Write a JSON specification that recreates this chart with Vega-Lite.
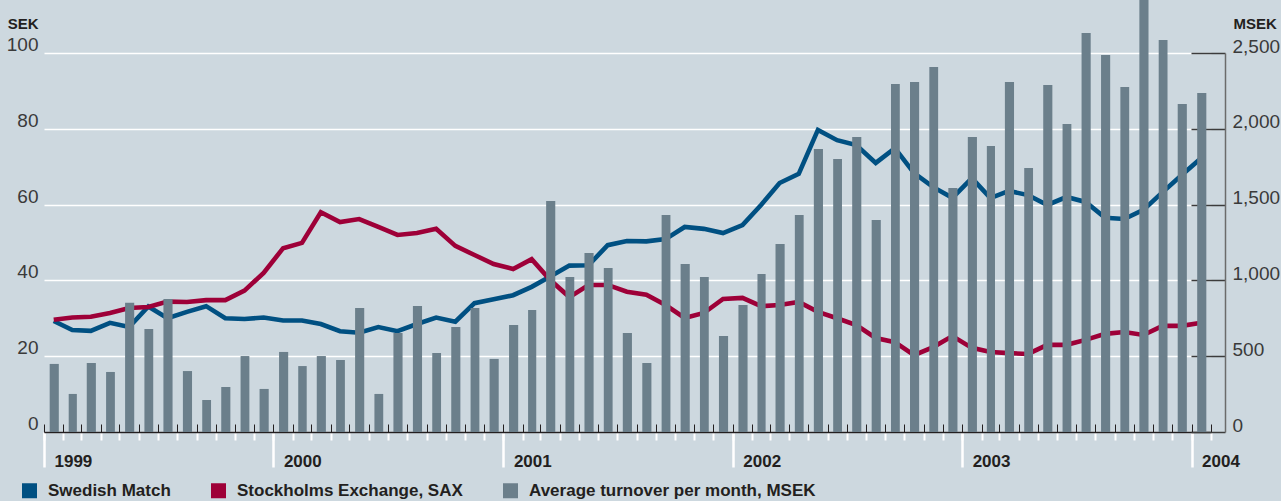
{
  "$schema": "https://vega.github.io/schema/vega-lite/v6.json",
  "width": 1167,
  "height": 379,
  "autosize": {"type": "none"},
  "padding": {"left": 44, "top": 53, "right": 70, "bottom": 69},
  "background": "#cdd8df",
  "config": {"view": {"stroke": null}},
  "data": {"values": [
    {"date": "1999-01-01", "sm": 29.3, "sax": 29.6, "turnover": 449},
    {"date": "1999-02-01", "sm": 26.9, "sax": 30.2, "turnover": 251},
    {"date": "1999-03-01", "sm": 26.7, "sax": 30.4, "turnover": 455},
    {"date": "1999-04-01", "sm": 28.8, "sax": 31.4, "turnover": 396},
    {"date": "1999-05-01", "sm": 27.7, "sax": 32.7, "turnover": 853},
    {"date": "1999-06-01", "sm": 33.1, "sax": 33.0, "turnover": 679},
    {"date": "1999-07-01", "sm": 30.0, "sax": 34.4, "turnover": 877},
    {"date": "1999-08-01", "sm": 31.7, "sax": 34.3, "turnover": 402},
    {"date": "1999-09-01", "sm": 33.2, "sax": 34.8, "turnover": 211},
    {"date": "1999-10-01", "sm": 30.0, "sax": 34.8, "turnover": 297},
    {"date": "1999-11-01", "sm": 29.8, "sax": 37.3, "turnover": 501},
    {"date": "1999-12-01", "sm": 30.2, "sax": 42.0, "turnover": 284},
    {"date": "2000-01-01", "sm": 29.4, "sax": 48.5, "turnover": 528},
    {"date": "2000-02-01", "sm": 29.4, "sax": 49.9, "turnover": 435},
    {"date": "2000-03-01", "sm": 28.5, "sax": 58.0, "turnover": 501},
    {"date": "2000-04-01", "sm": 26.6, "sax": 55.4, "turnover": 475},
    {"date": "2000-05-01", "sm": 26.2, "sax": 56.2, "turnover": 818},
    {"date": "2000-06-01", "sm": 27.7, "sax": 54.1, "turnover": 251},
    {"date": "2000-07-01", "sm": 26.6, "sax": 52.0, "turnover": 653},
    {"date": "2000-08-01", "sm": 28.5, "sax": 52.5, "turnover": 831},
    {"date": "2000-09-01", "sm": 30.2, "sax": 53.6, "turnover": 521},
    {"date": "2000-10-01", "sm": 29.1, "sax": 49.1, "turnover": 693},
    {"date": "2000-11-01", "sm": 34.0, "sax": 46.7, "turnover": 818},
    {"date": "2000-12-01", "sm": 35.0, "sax": 44.3, "turnover": 482},
    {"date": "2001-01-01", "sm": 36.1, "sax": 43.0, "turnover": 706},
    {"date": "2001-02-01", "sm": 38.3, "sax": 45.6, "turnover": 805},
    {"date": "2001-03-01", "sm": 41.0, "sax": 40.1, "turnover": 1524},
    {"date": "2001-04-01", "sm": 43.9, "sax": 35.6, "turnover": 1022},
    {"date": "2001-05-01", "sm": 44.0, "sax": 38.8, "turnover": 1181},
    {"date": "2001-06-01", "sm": 49.3, "sax": 38.8, "turnover": 1082},
    {"date": "2001-07-01", "sm": 50.4, "sax": 37.0, "turnover": 653},
    {"date": "2001-08-01", "sm": 50.3, "sax": 36.2, "turnover": 455},
    {"date": "2001-09-01", "sm": 50.9, "sax": 33.5, "turnover": 1431},
    {"date": "2001-10-01", "sm": 54.1, "sax": 30.1, "turnover": 1108},
    {"date": "2001-11-01", "sm": 53.6, "sax": 31.4, "turnover": 1022},
    {"date": "2001-12-01", "sm": 52.5, "sax": 35.1, "turnover": 633},
    {"date": "2002-01-01", "sm": 54.6, "sax": 35.4, "turnover": 838},
    {"date": "2002-02-01", "sm": 59.9, "sax": 33.2, "turnover": 1042},
    {"date": "2002-03-01", "sm": 65.7, "sax": 33.5, "turnover": 1240},
    {"date": "2002-04-01", "sm": 68.1, "sax": 34.3, "turnover": 1431},
    {"date": "2002-05-01", "sm": 79.7, "sax": 31.7, "turnover": 1867},
    {"date": "2002-06-01", "sm": 77.0, "sax": 30.0, "turnover": 1801},
    {"date": "2002-07-01", "sm": 75.7, "sax": 28.2, "turnover": 1946},
    {"date": "2002-08-01", "sm": 71.0, "sax": 24.8, "turnover": 1398},
    {"date": "2002-09-01", "sm": 74.9, "sax": 23.7, "turnover": 2296},
    {"date": "2002-10-01", "sm": 68.3, "sax": 20.3, "turnover": 2309},
    {"date": "2002-11-01", "sm": 64.6, "sax": 22.4, "turnover": 2408},
    {"date": "2002-12-01", "sm": 61.8, "sax": 25.3, "turnover": 1609},
    {"date": "2003-01-01", "sm": 67.0, "sax": 22.2, "turnover": 1946},
    {"date": "2003-02-01", "sm": 61.7, "sax": 21.1, "turnover": 1887},
    {"date": "2003-03-01", "sm": 63.6, "sax": 20.8, "turnover": 2309},
    {"date": "2003-04-01", "sm": 62.5, "sax": 20.6, "turnover": 1741},
    {"date": "2003-05-01", "sm": 59.9, "sax": 23.0, "turnover": 2289},
    {"date": "2003-06-01", "sm": 62.0, "sax": 23.0, "turnover": 2032},
    {"date": "2003-07-01", "sm": 60.7, "sax": 24.3, "turnover": 2632},
    {"date": "2003-08-01", "sm": 56.5, "sax": 25.9, "turnover": 2487},
    {"date": "2003-09-01", "sm": 56.2, "sax": 26.4, "turnover": 2276},
    {"date": "2003-10-01", "sm": 58.6, "sax": 25.6, "turnover": 2860},
    {"date": "2003-11-01", "sm": 63.3, "sax": 28.0, "turnover": 2586},
    {"date": "2003-12-01", "sm": 67.8, "sax": 28.0, "turnover": 2164},
    {"date": "2004-01-01", "sm": 72.3, "sax": 28.8, "turnover": 2236}
  ]},
  "layer": [
    {
      "mark": {"type": "line", "strokeWidth": 4.6, "strokeJoin": "miter"},
      "encoding": {
        "x": {
          "field": "date", "timeUnit": "utcyearmonth", "type": "temporal", "bandPosition": 0.5,
          "scale": {"type": "utc", "domain": [{"year": 1999, "month": 1, "date": 1, "utc": true}, {"year": 2004, "month": 2, "date": 1, "utc": true}]},
          "axis": {"orient": "bottom", "domain": false, "ticks": true, "tickColor": "white", "tickSize": 8, "tickWidth": 2, "tickCount": {"interval": "month", "step": 1}, "labels": false, "grid": false, "title": null}
        },
        "y": {
          "field": "sm", "type": "quantitative",
          "scale": {"domain": [0, 100], "nice": false},
          "axis": {"orient": "left", "values": [0, 20, 40, 60, 80, 100], "grid": true, "gridColor": "white", "gridWidth": 1.5, "domain": false, "ticks": false, "tickSize": 0, "labelPadding": 6, "labelBaseline": "alphabetic", "labelOffset": -2.5, "labelFont": "Liberation Sans", "labelFontSize": 19, "labelColor": "#3a3a3a", "labelFlush": false, "labelOverlap": false, "title": "SEK", "titleAngle": 0, "titleX": -6, "titleY": -25, "titleAlign": "right", "titleBaseline": "alphabetic", "titleFont": "Liberation Sans", "titleFontWeight": "bold", "titleFontSize": 15, "titleColor": "#231f20"}
        },
        "color": {
          "datum": "Swedish Match", "type": "nominal",
          "scale": {"domain": ["Swedish Match", "Stockholms Exchange, SAX", "Average turnover per month, MSEK"], "range": ["#005082", "#9e0038", "#6b7f8b"]},
          "legend": {"orient": "none", "legendX": -23, "legendY": 429, "direction": "horizontal", "title": null, "symbolType": "square", "symbolSize": 225, "symbolStrokeWidth": 0, "labelFont": "Liberation Sans", "labelFontWeight": "bold", "labelFontSize": 17, "labelColor": "#231f20", "labelOffset": 10, "columnPadding": 39, "padding": 0, "labelLimit": 500,
            "encode": {"symbols": {"update": {"fill": {"scale": "color", "field": "value"}, "stroke": {"value": "transparent"}, "shape": {"value": "square"}, "opacity": {"value": 1}}}}}
        }
      }
    },
    {
      "mark": {"type": "line", "strokeWidth": 4.6, "strokeJoin": "miter"},
      "encoding": {
        "x": {
          "field": "date", "timeUnit": "utcyearmonth", "type": "temporal", "bandPosition": 0.5,
          "axis": {"orient": "bottom", "domain": false, "ticks": true, "tickColor": "white", "tickSize": 35, "tickWidth": 2.5, "tickCount": {"interval": "year", "step": 1}, "labels": true, "format": "%Y", "labelAlign": "left", "labelBaseline": "middle", "labelOffset": 10, "labelPadding": -6, "labelFont": "Liberation Sans", "labelFontWeight": "bold", "labelFontSize": 17, "labelColor": "#231f20", "labelFlush": false, "labelOverlap": false, "grid": false, "title": null}
        },
        "y": {"field": "sax", "type": "quantitative", "scale": {"domain": [0, 100], "nice": false}, "axis": null},
        "color": {"datum": "Stockholms Exchange, SAX", "type": "nominal"}
      }
    },
    {
      "mark": {"type": "bar", "width": {"band": 0.52}},
      "encoding": {
        "x": {
          "field": "date", "timeUnit": "utcyearmonth", "type": "temporal",
          "axis": {"orient": "bottom", "domain": true, "domainColor": "#231f20", "domainWidth": 1.5, "ticks": true, "tickColor": "#231f20", "tickSize": -8, "tickWidth": 1, "tickCount": {"interval": "month", "step": 1}, "labels": false, "grid": false, "title": null}
        },
        "y": {
          "field": "turnover", "type": "quantitative",
          "scale": {"domain": [0, 2500], "nice": false},
          "axis": {"orient": "right", "offset": 14, "values": [0, 500, 1000, 1500, 2000, 2500], "format": ",d", "grid": false, "domain": true, "domainColor": "#6b6b6b", "domainWidth": 1.5, "ticks": true, "tickSize": -34, "tickColor": "#3c3c3c", "tickWidth": 1.5, "labelPadding": 41, "labelAlign": "left", "labelBaseline": "alphabetic", "labelOffset": -1, "labelFont": "Liberation Sans", "labelFontSize": 19, "labelColor": "#3a3a3a", "labelFlush": false, "labelOverlap": false, "title": "MSEK", "titleAngle": 0, "titleX": 8, "titleY": -25, "titleAlign": "left", "titleBaseline": "alphabetic", "titleFont": "Liberation Sans", "titleFontWeight": "bold", "titleFontSize": 15, "titleColor": "#231f20"}
        },
        "color": {"datum": "Average turnover per month, MSEK", "type": "nominal"}
      }
    }
  ],
  "resolve": {"scale": {"y": "independent"}, "axis": {"x": "independent", "y": "independent"}}
}
